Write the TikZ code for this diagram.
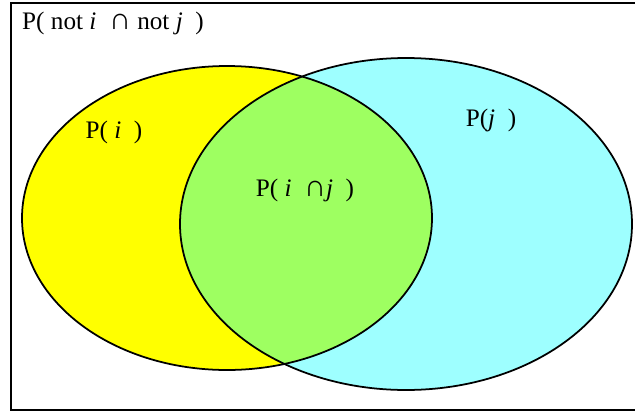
\documentclass[tikz,border=0pt]{standalone}
\usepackage{fontspec}
\setmainfont{Liberation Serif}
\usepackage{tikz}
\usetikzlibrary{positioning}
\definecolor{setiyellow}{RGB}{255,255,0}
\definecolor{setjcyan}{RGB}{0,255,255}
\newcommand{\bigcapsym}{{\fontsize{26}{25}\selectfont ∩}}

\begin{document}
\begin{tikzpicture}[x=0.03cm, y=-0.03cm,
  lbl/.style={font=\fontsize{21.5}{25}\selectfont, inner sep=0pt},
  setline/.style={draw=black, line width=1.5pt}]
\useasboundingbox (0,0) rectangle (635,412);
% --- universe frame ---
\draw[line width=1.4pt] (635,3) -- (11,3) -- (11,410) -- (635,410);
\node[lbl, anchor=west] (notij) at (22,23) {P( not \textit{i} \ \bigcapsym\ not \textit{j} \ )};
% --- set i ---
\fill[setiyellow] (227,218) ellipse (205 and 152);
% --- set j ---
\fill[setjcyan, fill opacity=0.38] (406,224) ellipse (226 and 166);
\draw[setline] (227,218) ellipse (205 and 152);
\draw[setline] (406,224) ellipse (226 and 166);
\node[lbl] (pi) at (114,132) {P( \textit{i} \ )};
\node[lbl] (pj) at (491,120) {P(\textit{j} \ )};
\node[lbl] (pij) at (305,190) {P( \textit{i} \ \bigcapsym\textit{j} \ )};
\end{tikzpicture}
\end{document}
